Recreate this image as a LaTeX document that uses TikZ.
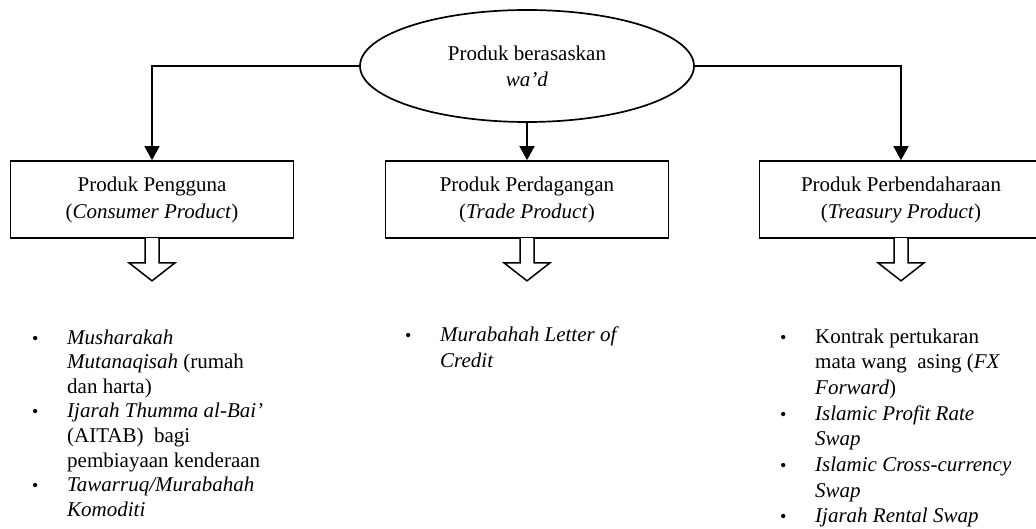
\documentclass[tikz,border=0pt]{standalone}
\usepackage{fontspec}
\setmainfont{Liberation Serif}
\usetikzlibrary{arrows.meta,shapes.geometric}
\newcommand{\lines}[1]{\begin{tabular}[t]{@{}l@{}}#1\end{tabular}}
\begin{document}
\begin{tikzpicture}[x=1pt,y=1pt,
  box/.style={draw, line width=1.7pt, minimum width=283pt, minimum height=77pt, align=center,
    font=\fontsize{21}{27}\selectfont, inner sep=0pt},
  root/.style={ellipse, draw, line width=1.7pt, minimum width=334pt, minimum height=112pt,
    align=center, font=\fontsize{21}{26}\selectfont, inner sep=0pt},
  conn/.style={line width=1.6pt, -{Triangle[width=15pt,length=14pt]}},
  hollow/.style={line width=1.5pt, line join=miter},
  bul/.style={anchor=base west, inner sep=0pt, font=\fontsize{18}{25}\selectfont},
  itemL/.style={anchor=base west, inner sep=0pt, font=\fontsize{21}{24.6}\selectfont},
  itemR/.style={anchor=base west, inner sep=0pt, font=\fontsize{21}{25.7}\selectfont}
]
\useasboundingbox (0,0) rectangle (1036,528);
\clip (0,0) rectangle (1036,528);

\node[root] (r) at (527,462) {Produk berasaskan\\\textit{wa’d}};

\node[box] (b1) at (152,328.5) {Produk Pengguna\\(\textit{Consumer Product})};
\node[box] (b2) at (527,328.5) {Produk Perdagangan\\(\textit{Trade Product})};
\node[box] (b3) at (901,328.5) {Produk Perbendaharaan\\(\textit{Treasury Product})};

\draw[conn] (r.west) -| (b1.north);
\draw[conn] (r.south) -- (b2.north);
\draw[conn] (r.east) -| (b3.north);

\foreach \b in {b1,b2,b3}{
  \fill[white] ([shift={(-6.2,1.2)}]\b.south) rectangle ([shift={(6.2,-3)}]\b.south);
  \draw[hollow] ([shift={(-7,0.85)}]\b.south) -- ([shift={(-7,-24)}]\b.south)
    -- ([shift={(-23,-24)}]\b.south) -- ([shift={(0,-42)}]\b.south)
    -- ([shift={(23,-24)}]\b.south) -- ([shift={(7,-24)}]\b.south)
    -- ([shift={(7,0.85)}]\b.south);
}

% left list
\node[bul] (l1b) at (32,184) {•};
\node[itemL] (l1) at (67,184) {\lines{\textit{Musharakah}\\\textit{Mutanaqisah} (rumah\\dan harta)}};
\node[bul] (l2b) at (32,110.2) {•};
\node[itemL] (l2) at (67,110.2) {\lines{\textit{Ijarah Thumma al-Bai’}\\(AITAB)\ \ bagi\\pembiayaan kenderaan}};
\node[bul] (l3b) at (32,36.4) {•};
\node[itemL] (l3) at (67,36.4) {\lines{\textit{Tawarruq/Murabahah}\\\textit{Komoditi}}};

% middle list
\node[bul] (m1b) at (405,186) {•};
\node[itemL,font=\fontsize{21}{26}\selectfont] (m1) at (440,186) {\lines{\textit{Murabahah Letter of}\\\textit{Credit}}};

% right list
\node[bul] (r1b) at (780,185) {•};
\node[itemR] (r1) at (815,185) {\lines{Kontrak pertukaran\\mata wang\ \ asing (\textit{FX}\\\textit{Forward})}};
\node[bul] (r2b) at (780,107.9) {•};
\node[itemR] (r2) at (815,107.9) {\lines{\textit{Islamic Profit Rate}\\\textit{Swap}}};
\node[bul] (r3b) at (780,56.5) {•};
\node[itemR] (r3) at (815,56.5) {\lines{\textit{Islamic Cross-currency}\\\textit{Swap}}};
\node[bul] (r4b) at (780,5.1) {•};
\node[itemR] (r4) at (815,5.1) {\textit{Ijarah Rental Swap}};
\end{tikzpicture}
\end{document}
